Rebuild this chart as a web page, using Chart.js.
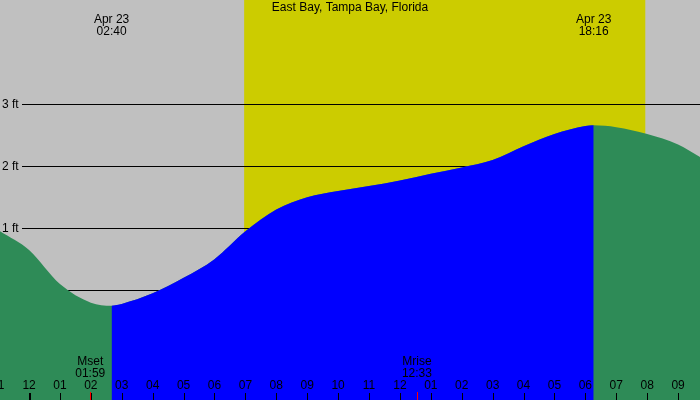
<!DOCTYPE html>
<html>
<head>
<meta charset="utf-8">
<script src="https://cdn.jsdelivr.net/npm/chart.js@4/dist/chart.umd.min.js"></script>
<style>
  html, body { margin: 0; padding: 0; background: #c0c0c0; }
  #wrap { width: 700px; height: 400px; }
</style>
</head>
<body>
<div id="wrap"><canvas id="tideChart"></canvas></div>
<script>
// hours from midnight Apr 23
const tideHours = [-0.94, 0, 1, 2, 2.67, 3, 4, 5, 6, 7, 8, 9, 10, 11, 12, 13, 14, 15, 16, 17, 18, 18.27, 19, 20, 21, 21.71];
const tideFeet = [0.95, 0.65, 0.1, -0.2, -0.25, -0.22, -0.05, 0.2, 0.5, 0.95, 1.3, 1.5, 1.6, 1.68, 1.77, 1.88, 1.98, 2.1, 2.32, 2.52, 2.65, 2.66, 2.63, 2.52, 2.35, 2.15];
const lowTide = 2.67;
const highTide = 18.27;
const sunrise = 6.96;
const sunset = 19.94;
const feetLines = [0, 1, 2, 3];
const hourTicks = [-1, 0, 1, 2, 3, 4, 5, 6, 7, 8, 9, 10, 11, 12, 13, 14, 15, 16, 17, 18, 19, 20, 21];
const hourLabels = ["11", "12", "01", "02", "03", "04", "05", "06", "07", "08", "09", "10", "11", "12", "01", "02", "03", "04", "05", "06", "07", "08", "09"];
const moonEvents = [{ h: 1.98, name: "Mset", time: "01:59" }, { h: 12.55, name: "Mrise", time: "12:33" }];
const tideLabels = [{ h: lowTide, date: "Apr 23", time: "02:40" }, { h: highTide, date: "Apr 23", time: "18:16" }];

const allPoints = tideHours.map((h, i) => ({ x: h, y: tideFeet[i] }));
const bluePoints = allPoints.filter((p) => p.x >= lowTide && p.x <= highTide);

const FONT = "12px 'Liberation Sans', Arial, sans-serif";

const backdrop = {
  id: "backdrop",
  beforeDatasetsDraw(chart) {
    const { ctx, scales: { x, y } } = chart;
    ctx.save();
    ctx.fillStyle = "#c0c0c0";
    ctx.fillRect(0, 0, chart.width, chart.height);
    ctx.fillStyle = "#cccc00";
    const x0 = x.getPixelForValue(sunrise);
    const x1 = x.getPixelForValue(sunset);
    ctx.fillRect(x0, 0, x1 - x0, chart.height);
    ctx.strokeStyle = "#000";
    ctx.lineWidth = 1;
    ctx.fillStyle = "#000";
    ctx.font = FONT;
    ctx.textBaseline = "middle";
    feetLines.forEach((f) => {
      const py = Math.round(y.getPixelForValue(f)) + 0.5;
      ctx.beginPath();
      ctx.moveTo(22, py);
      ctx.lineTo(chart.width, py);
      ctx.stroke();
      ctx.textAlign = "left";
      ctx.fillText(f + " ft", 2, py);
    });
    ctx.restore();
  },
  afterDatasetsDraw(chart) {
    const { ctx, scales: { x } } = chart;
    ctx.save();
    ctx.font = FONT;
    ctx.fillStyle = "#000";
    ctx.textAlign = "center";
    ctx.textBaseline = "middle";
    ctx.fillText("East Bay, Tampa Bay, Florida", 350, 8);
    tideLabels.forEach((t) => {
      const px = x.getPixelForValue(t.h);
      ctx.fillText(t.date, px, 20);
      ctx.fillText(t.time, px, 32);
    });
    moonEvents.forEach((m) => {
      const px = x.getPixelForValue(m.h);
      ctx.fillText(m.name, px, 362);
      ctx.fillText(m.time, px, 374);
      ctx.fillStyle = "#ff0000";
      ctx.fillRect(Math.round(px), 392, 1, 8);
      ctx.fillStyle = "#000";
    });
    hourTicks.forEach((h, i) => {
      const px = x.getPixelForValue(h);
      ctx.fillText(hourLabels[i], px, 386);
      ctx.fillRect(Math.round(px), 393, h === 0 ? 2 : 1, 7);
    });
    ctx.restore();
  },
};

new Chart(document.getElementById("tideChart"), {
  type: "line",
  data: {
    datasets: [
      { data: allPoints, order: 2, borderWidth: 0, pointRadius: 0, fill: "start", backgroundColor: "#2e8b57", cubicInterpolationMode: "monotone" },
      { data: bluePoints, order: 1, borderWidth: 0, pointRadius: 0, fill: "start", backgroundColor: "#0000ff", cubicInterpolationMode: "monotone" },
    ],
  },
  options: {
    responsive: true,
    maintainAspectRatio: false,
    animation: false,
    layout: { padding: 0 },
    scales: {
      x: { type: "linear", min: -0.94, max: 21.71, display: false },
      y: { min: -1.77, max: 4.68, display: false },
    },
    plugins: { legend: { display: false }, tooltip: { enabled: false } },
  },
  plugins: [backdrop],
});
</script>
</body>
</html>
